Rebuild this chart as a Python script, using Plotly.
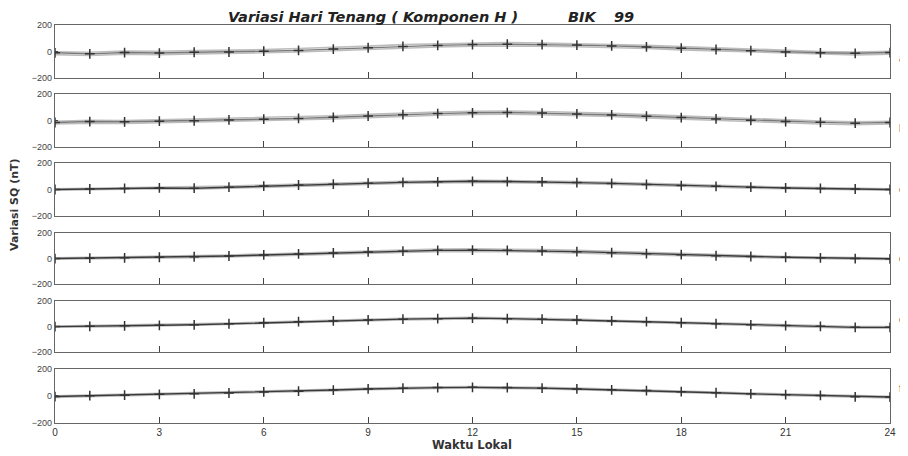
import plotly.graph_objects as go

hours = list(range(25))
x_ticks = [0, 3, 6, 9, 12, 15, 18, 21, 24]
y_ticks = [-200, 0, 200]
panel_labels = ["a", "b", "c", "d", "e", "f"]

# mean quiet-day variation per panel (nT), hourly 0..24
mean_a = [-10, -18, -8, -12, -6, -4, 2, 8, 18, 28, 38, 46, 52, 55, 52, 48, 42, 34, 25, 15, 6, -4, -10, -14, -8]
mean_b = [-15, -8, -10, -5, -2, 4, 10, 16, 24, 34, 44, 52, 58, 60, 56, 50, 42, 32, 22, 12, 2, -8, -14, -20, -15]
mean_c = [0, 4, 8, 12, 10, 18, 26, 34, 40, 48, 54, 58, 62, 60, 58, 52, 46, 38, 30, 24, 18, 12, 8, 4, 0]
mean_d = [0, 3, 6, 10, 14, 20, 28, 36, 44, 52, 58, 64, 66, 64, 60, 54, 46, 38, 30, 22, 16, 10, 6, 0, -2]
mean_e = [0, 2, 6, 10, 14, 22, 30, 38, 44, 52, 58, 62, 66, 62, 58, 52, 44, 38, 30, 22, 14, 8, 2, -6, -6]
mean_f = [-4, 2, 6, 12, 16, 22, 30, 36, 44, 52, 58, 62, 64, 62, 58, 52, 46, 40, 32, 24, 16, 10, 4, -6, -8]

# individual quiet days (lighter lines), upper and lower envelopes
day1_a = [-2, -6, 4, 2, 6, 8, 14, 22, 30, 40, 52, 58, 64, 68, 64, 60, 52, 46, 36, 26, 16, 6, 0, -4, 2]
day2_a = [-24, -30, -20, -24, -18, -16, -10, -4, 6, 16, 26, 34, 40, 42, 40, 36, 30, 22, 12, 4, -6, -14, -22, -26, -20]
day1_b = [-6, 2, 0, 6, 10, 16, 22, 28, 36, 46, 56, 64, 70, 72, 68, 62, 54, 44, 34, 24, 12, 2, -4, -10, -6]
day2_b = [-26, -20, -22, -16, -14, -8, -2, 4, 12, 22, 32, 40, 46, 48, 44, 38, 30, 20, 10, 0, -10, -20, -26, -32, -26]
day1_c = [6, 10, 14, 18, 18, 26, 34, 42, 48, 56, 62, 66, 70, 68, 66, 60, 54, 46, 38, 32, 26, 18, 14, 10, 6]
day2_c = [-6, -2, 2, 6, 2, 10, 18, 26, 32, 40, 46, 50, 54, 52, 50, 44, 38, 30, 22, 16, 10, 6, 2, -2, -6]
day1_d = [6, 10, 12, 18, 22, 28, 36, 44, 52, 60, 68, 74, 76, 74, 70, 64, 56, 46, 38, 30, 24, 16, 12, 6, 4]
day2_d = [-6, -4, 0, 2, 6, 12, 20, 28, 36, 44, 48, 54, 56, 54, 50, 44, 36, 30, 22, 14, 8, 4, 0, -6, -8]
day1_e = [4, 8, 12, 16, 20, 28, 36, 44, 50, 58, 64, 68, 72, 68, 64, 58, 50, 44, 36, 28, 20, 14, 8, 0, 0]
day2_e = [-4, -4, 0, 4, 8, 16, 24, 32, 38, 46, 52, 56, 60, 56, 52, 46, 38, 32, 24, 16, 8, 2, -4, -12, -12]
day1_f = [2, 8, 12, 18, 22, 28, 36, 42, 50, 58, 64, 68, 70, 68, 64, 58, 52, 46, 38, 30, 22, 16, 10, 0, -2]
day2_f = [-10, -4, 0, 6, 10, 16, 24, 30, 38, 46, 52, 56, 58, 56, 52, 46, 40, 34, 26, 18, 10, 4, -2, -12, -14]

means = [mean_a, mean_b, mean_c, mean_d, mean_e, mean_f]
days = [[day1_a, day2_a], [day1_b, day2_b], [day1_c, day2_c],
        [day1_d, day2_d], [day1_e, day2_e], [day1_f, day2_f]]

# panel vertical domains (paper fractions, top panel first)
domains = [(0.867, 1.0), (0.6935, 0.8266), (0.520, 0.6533),
           (0.349, 0.4774), (0.178, 0.3065), (0.0, 0.1357)]

fig = go.Figure()
FONT = "Liberation Sans, Arial, sans-serif"
BOLDFONT = "DejaVu Sans, Liberation Sans, sans-serif"

for i in range(6):
    ax = "" if i == 0 else str(i + 1)
    xref = "x" + ax
    yref = "y" + ax
    for d in days[i]:
        fig.add_trace(go.Scatter(x=hours, y=d, mode="lines",
                                 line=dict(color="#bdbdbd", width=1.6),
                                 xaxis=xref, yaxis=yref, showlegend=False,
                                 hoverinfo="skip"))
    dark = "#7a7a7a" if i < 2 else "#3a3a3a"
    fig.add_trace(go.Scatter(x=hours, y=means[i], mode="lines+markers",
                             line=dict(color=dark, width=1.4),
                             marker=dict(symbol="cross-thin", size=7,
                                         line=dict(color="#333", width=1.5)),
                             xaxis=xref, yaxis=yref, showlegend=False))
    xa = dict(domain=[0, 1], range=[0, 24], tickvals=x_ticks,
              showticklabels=(i == 5), ticks="inside", ticklen=6,
              tickcolor="#444", showline=True, linecolor="#666", linewidth=1.3,
              mirror=True, showgrid=False, zeroline=False,
              tickfont=dict(family=FONT, size=10, color="#333"),
              anchor="y" + ax)
    if i < 5:
        xa["matches"] = "x6"
    ya = dict(domain=list(domains[i]), range=[-200, 200], tickvals=y_ticks,
              ticks="inside", ticklen=3, tickcolor="#444",
              showline=True, linecolor="#666", linewidth=1.3, mirror=True,
              showgrid=False, zeroline=False,
              tickfont=dict(family=FONT, size=9, color="#444"),
              anchor="x" + ax)
    fig.layout["xaxis" + ax] = xa
    fig.layout["yaxis" + ax] = ya
    ymid = (domains[i][0] + domains[i][1]) / 2
    fig.add_annotation(x=1.008, y=ymid, xref="paper", yref="paper",
                       text=panel_labels[i], showarrow=False, xanchor="left",
                       font=dict(family=FONT, size=10, color="#555"))

# page body has an 8px margin; figure is sized so the plot area sits at
# x 55..890 and y 25..423 of the 908x456 window
TITLE_Y = 1.0 + 8 / 398
TFONT = dict(family=BOLDFONT, size=14.5, color="#222", weight="bold", style="italic")
fig.add_annotation(x=(226 - 55) / 835, y=TITLE_Y, xref="paper", yref="paper",
                   xanchor="left", yanchor="middle",
                   text="Variasi Hari Tenang ( Komponen H )",
                   showarrow=False, font=TFONT)
fig.add_annotation(x=(566 - 55) / 835, y=TITLE_Y, xref="paper", yref="paper",
                   xanchor="left", yanchor="middle", text="BIK",
                   showarrow=False, font=TFONT)
fig.add_annotation(x=(612 - 55) / 835, y=TITLE_Y, xref="paper", yref="paper",
                   xanchor="left", yanchor="middle", text="99",
                   showarrow=False, font=TFONT)
fig.add_annotation(x=(15 - 55) / 835, y=(423 - 205) / 398, xref="paper", yref="paper",
                   xanchor="center", yanchor="middle",
                   text="<b>Variasi SQ (nT)</b>", textangle=-90, showarrow=False,
                   font=dict(family=BOLDFONT, size=11, color="#333"))
fig.add_annotation(x=(472 - 55) / 835, y=-(445 - 423) / 398, xref="paper", yref="paper",
                   xanchor="center", yanchor="middle",
                   text="<b>Waktu Lokal</b>", showarrow=False,
                   font=dict(family=BOLDFONT, size=11.5, color="#333"))

fig.update_layout(width=900, height=448,
                  margin=dict(l=47, r=18, t=17, b=33),
                  paper_bgcolor="white", plot_bgcolor="white")

fig.write_html("out.html")
